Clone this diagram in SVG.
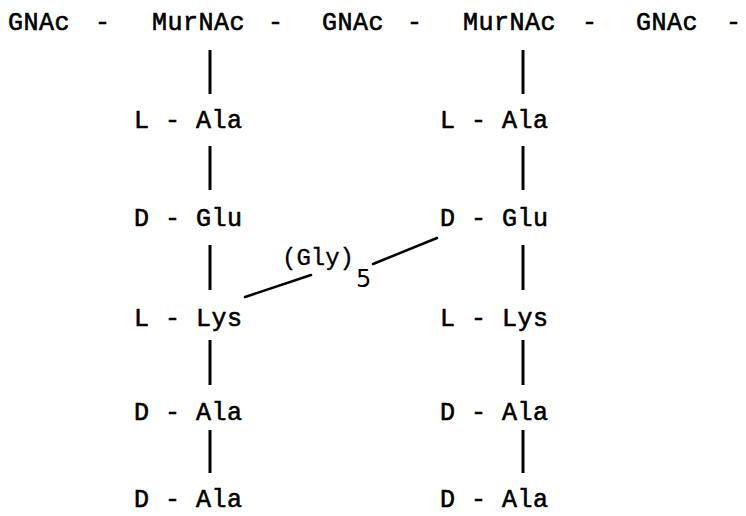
<svg xmlns="http://www.w3.org/2000/svg" width="746" height="516" viewBox="0 0 746 516">
<style>
text{font-family:"Liberation Mono","Courier New",monospace;font-size:25px;fill:#000;stroke:#000;stroke-width:0.6;letter-spacing:0.5px;white-space:pre}
.gly{font-size:24px;stroke-width:0.3;letter-spacing:0}
.sub{font-family:"DejaVu Sans","Liberation Sans",sans-serif;font-size:24px;stroke-width:0}
.c line{stroke:#000;stroke-width:3;stroke-linecap:butt}
.x line{stroke:#000;stroke-width:2.5;stroke-linecap:round}
</style>
<rect width="746" height="516" fill="#fff"/>
<g id="backbone">
<g id="gnac1"><text x="8" y="30">GNAc</text></g>
<text x="95" y="30">-</text>
<g id="murnac1"><text x="152" y="30">MurNAc</text></g>
<text x="268" y="30">-</text>
<g id="gnac2"><text x="322" y="30">GNAc</text></g>
<text x="407" y="30">-</text>
<g id="murnac2"><text x="463" y="30">MurNAc</text></g>
<text x="582" y="30">-</text>
<g id="gnac3"><text x="636" y="30">GNAc</text></g>
<text x="726" y="30">-</text>
</g>
<g id="left-chain">
<g id="l-ala1"><text x="134" y="128">L - Ala</text></g>
<g id="d-glu1"><text x="134" y="226">D - Glu</text></g>
<g id="l-lys1"><text x="134" y="326">L - Lys</text></g>
<g id="d-ala1a"><text x="134" y="420">D - Ala</text></g>
<g id="d-ala1b"><text x="134" y="507">D - Ala</text></g>
</g>
<g id="right-chain">
<g id="l-ala2"><text x="440" y="128">L - Ala</text></g>
<g id="d-glu2"><text x="440" y="226">D - Glu</text></g>
<g id="l-lys2"><text x="440" y="326">L - Lys</text></g>
<g id="d-ala2a"><text x="440" y="420">D - Ala</text></g>
<g id="d-ala2b"><text x="440" y="507">D - Ala</text></g>
</g>
<g id="gly5"><text class="gly" x="282" y="265">(Gly)</text><text class="sub" x="356" y="287">5</text></g>
<g id="connectors">
<g class="c">
<line x1="210" y1="50" x2="210" y2="94"/>
<line x1="210" y1="146" x2="210" y2="190"/>
<line x1="210" y1="245" x2="210" y2="290"/>
<line x1="210" y1="340" x2="210" y2="385"/>
<line x1="210" y1="430" x2="210" y2="473"/>
<line x1="523" y1="50" x2="523" y2="94"/>
<line x1="523" y1="146" x2="523" y2="190"/>
<line x1="523" y1="245" x2="523" y2="290"/>
<line x1="523" y1="340" x2="523" y2="385"/>
<line x1="523" y1="430" x2="523" y2="473"/>
</g>
<g class="x">
<line x1="245" y1="297" x2="311" y2="275"/>
<line x1="373" y1="264" x2="437" y2="238"/>
</g>
</g>
</svg>
